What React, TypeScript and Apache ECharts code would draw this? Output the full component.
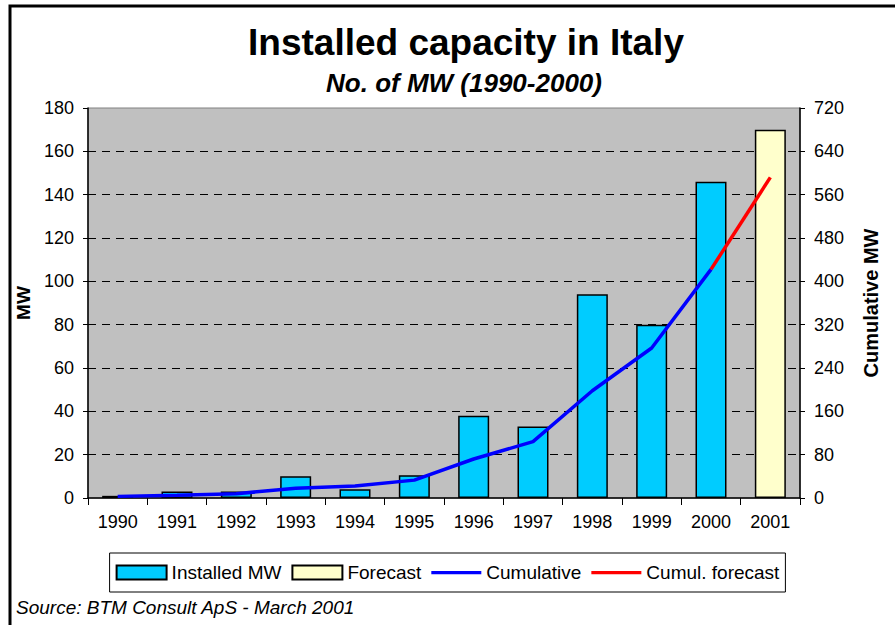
import React, { useEffect, useRef } from "react";
import * as echarts from "echarts";

const years = ["1990", "1991", "1992", "1993", "1994", "1995", "1996", "1997", "1998", "1999", "2000", "2001"];
const installedMW = [1, 3, 3, 10, 4, 10.5, 38, 33, 94, 80, 146, null];
const forecastMW = [null, null, null, null, null, null, null, null, null, null, null, 170];
const cumulative = [3, 5, 8, 18, 22, 33, 72, 104, 198, 277, 422, null];
const cumulForecast = [null, null, null, null, null, null, null, null, null, null, 422, 592];

const FONT = "'Liberation Sans', Arial, sans-serif";
const LINE_ICON = "path://M0 0h0.05v0.05h-0.05z M0 5.5h50v3.2h-50z M49.95 13.95h0.05v0.05h-0.05z";

export default function App() {
  const ref = useRef<HTMLDivElement>(null);
  useEffect(() => {
    if (!ref.current) return;
    const chart = echarts.init(ref.current, null, { renderer: "svg" });
    chart.setOption({
      animation: false,
      backgroundColor: "#ffffff",
      textStyle: { fontFamily: FONT },
      graphic: [
        {
          type: "rect",
          shape: { x: 10, y: 6, width: 1000, height: 1000 },
          style: { fill: "none", stroke: "#000", lineWidth: 3 },
          silent: true,
        },
        {
          type: "text",
          x: 466,
          y: 42,
          style: {
            text: "Installed capacity in Italy",
            fontFamily: FONT,
            fontSize: 37,
            fontWeight: "bold",
            fill: "#000",
            textAlign: "center",
            textVerticalAlign: "middle",
          },
        },
        {
          type: "text",
          x: 464,
          y: 83,
          style: {
            text: "No. of MW (1990-2000)",
            fontFamily: FONT,
            fontSize: 26,
            fontWeight: "bold",
            fontStyle: "italic",
            fill: "#000",
            textAlign: "center",
            textVerticalAlign: "middle",
          },
        },
        {
          type: "text",
          x: 16,
          y: 607,
          style: {
            text: "Source: BTM Consult ApS - March 2001",
            fontFamily: FONT,
            fontSize: 19,
            fontStyle: "italic",
            fill: "#000",
            textAlign: "left",
            textVerticalAlign: "middle",
          },
        },
      ],
      grid: {
        left: 88,
        right: 95,
        top: 108,
        bottom: 127,
        show: true,
        backgroundColor: "#C0C0C0",
        borderColor: "#808080",
        borderWidth: 1,
      },
      legend: {
        left: "center",
        top: 553,
        orient: "horizontal",
        padding: [10, 6, 10, 6],
        borderColor: "#000",
        borderWidth: 1,
        itemWidth: 50,
        itemHeight: 14,
        itemGap: 10,
        textStyle: { fontFamily: FONT, fontSize: 19, color: "#000" },
        data: [
          { name: "Installed MW", icon: "rect" },
          { name: "Forecast", icon: "rect" },
          { name: "Cumulative", icon: LINE_ICON, itemStyle: { color: "#0000FF", borderWidth: 0 } },
          { name: "Cumul. forecast", icon: LINE_ICON, itemStyle: { color: "#FF0000", borderWidth: 0 } },
        ],
      },
      xAxis: {
        type: "category",
        data: years,
        boundaryGap: true,
        axisLine: { show: true, lineStyle: { color: "#000", width: 1.5 } },
        axisTick: { show: true, alignWithLabel: false, length: 7, lineStyle: { color: "#000", width: 1 } },
        axisLabel: { fontFamily: FONT, fontSize: 18, color: "#000", margin: 15, interval: 0 },
        splitLine: { show: false },
      },
      yAxis: [
        {
          type: "value",
          min: 0,
          max: 180,
          interval: 20,
          name: "MW",
          nameLocation: "middle",
          nameRotate: 90,
          nameGap: 55,
          nameTextStyle: { fontFamily: FONT, fontSize: 19, fontWeight: "bold", color: "#000" },
          axisLine: { show: true, lineStyle: { color: "#000", width: 1.5 } },
          axisTick: { show: true, length: 5, lineStyle: { color: "#000" } },
          axisLabel: { fontFamily: FONT, fontSize: 18, color: "#000", margin: 14 },
          splitLine: {
            show: true,
            showMinLine: false,
            showMaxLine: false,
            lineStyle: { color: "#000", type: [8, 6], width: 1 },
          },
        },
        {
          type: "value",
          min: 0,
          max: 720,
          interval: 80,
          position: "right",
          name: "Cumulative MW",
          nameLocation: "middle",
          nameRotate: 90,
          nameGap: 61,
          nameTextStyle: { fontFamily: FONT, fontSize: 20, fontWeight: "bold", color: "#000" },
          axisLine: { show: true, lineStyle: { color: "#000", width: 1.5 } },
          axisTick: { show: true, length: 5, lineStyle: { color: "#000" } },
          axisLabel: { fontFamily: FONT, fontSize: 18, color: "#000", margin: 14 },
          splitLine: { show: false },
        },
      ],
      series: [
        {
          name: "Installed MW",
          type: "bar",
          yAxisIndex: 0,
          data: installedMW,
          barWidth: 31,
          barGap: "-100%",
          itemStyle: { color: "#00CCFF", borderColor: "#000", borderWidth: 1.5 },
        },
        {
          name: "Forecast",
          type: "bar",
          yAxisIndex: 0,
          data: forecastMW,
          barWidth: 31,
          barGap: "-100%",
          itemStyle: { color: "#FFFFCC", borderColor: "#000", borderWidth: 1.5 },
        },
        {
          name: "Cumulative",
          type: "line",
          yAxisIndex: 1,
          data: cumulative,
          symbol: "none",
          showSymbol: false,
          lineStyle: { color: "#0000FF", width: 3.5 },
          itemStyle: { color: "#0000FF" },
          z: 5,
        },
        {
          name: "Cumul. forecast",
          type: "line",
          yAxisIndex: 1,
          data: cumulForecast,
          symbol: "none",
          showSymbol: false,
          lineStyle: { color: "#FF0000", width: 3.5 },
          itemStyle: { color: "#FF0000" },
          z: 5,
        },
      ],
    });
    return () => chart.dispose();
  }, []);
  return (
    <div
      ref={ref}
      style={{ position: "fixed", left: 0, top: 0, width: 895, height: 625, background: "#fff" }}
    />
  );
}
